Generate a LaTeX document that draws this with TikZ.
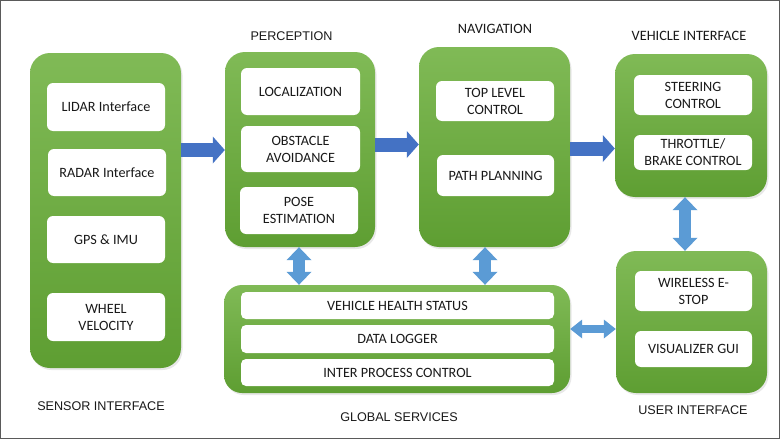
\documentclass[tikz,border=0pt]{standalone}
\usepackage{fontspec}
\setmainfont{Carlito}
\newfontfamily\headfont{Liberation Sans}
\usetikzlibrary{arrows.meta,shadows}
\definecolor{grtop}{RGB}{128,186,86}
\definecolor{grbot}{RGB}{94,158,50}
\definecolor{darkblue}{RGB}{68,114,196}
\definecolor{lightblue}{RGB}{91,155,213}
\definecolor{txt}{RGB}{25,25,25}
\definecolor{frame}{RGB}{90,90,90}
\tikzset{
  grp/.style={rectangle, rounded corners=20pt, top color=grtop, bottom color=grbot, draw=none,
    drop shadow={opacity=0.18, shadow xshift=1.5pt, shadow yshift=-2pt}},
  inbox/.style={rectangle, rounded corners=6pt, fill=white, draw=none, align=center,
    font=\fontsize{14.2}{17}\selectfont, text=txt, inner sep=0pt},
  rowbox/.style={rectangle, rounded corners=5pt, fill=white, draw=none, align=center,
    font=\fontsize{14.2}{17}\selectfont, text=txt, inner sep=0pt, minimum width=313pt},
  heading/.style={anchor=base, font=\headfont\fontsize{12.6}{15}\selectfont, text=txt, inner sep=0pt},
  cheading/.style={anchor=base, font=\fontsize{14.3}{17}\selectfont, text=txt, inner sep=0pt},
  harrow/.style={draw=darkblue, line width=14pt,
    -{Triangle[length=12pt 0 0, width=27pt 0 0, line width=0pt 0 0]}},
  varrow/.style={draw=lightblue, line width=12pt,
    {Triangle[length=13pt 0 0, width=25pt 0 0, line width=0pt 0 0]}-{Triangle[length=13pt 0 0, width=25pt 0 0, line width=0pt 0 0]}},
  sarrow/.style={draw=lightblue, line width=8pt,
    {Triangle[length=12pt 0 0, width=19pt 0 0, line width=0pt 0 0]}-{Triangle[length=12pt 0 0, width=19pt 0 0, line width=0pt 0 0]}},
}
\begin{document}
\begin{tikzpicture}[x=1pt,y=-1pt]
\useasboundingbox (0,0) rectangle (780,439);
\fill[white] (0,0) rectangle (780,439);
\draw[frame, line width=1.2pt] (0.6,0.6) rectangle (779.4,438.4);

% group boxes
\node[grp, minimum width=151pt, minimum height=315pt] (sensor) at (105.5,210.5) {};
\node[grp, minimum width=150pt, minimum height=195pt] (percep) at (300,149.5) {};
\node[grp, minimum width=151pt, minimum height=200pt] (nav) at (494.5,147) {};
\node[grp, minimum width=152pt, minimum height=143pt] (vehicle) at (691,125.5) {};
\node[grp, minimum width=151pt, minimum height=142pt] (user) at (691.5,322) {};
\node[grp, minimum width=346pt, minimum height=108pt, rounded corners=18pt] (global) at (397,339) {};

% sensor interface
\node[inbox, minimum width=118pt, minimum height=48pt] (lidar) at (106,107) {LIDAR Interface};
\node[inbox, minimum width=118pt, minimum height=47pt] (radar) at (107,172.5) {RADAR Interface};
\node[inbox, minimum width=118pt, minimum height=47pt] (gps) at (106,239.5) {GPS \& IMU};
\node[inbox, minimum width=118pt, minimum height=48pt] (wheel) at (106,317) {WHEEL\\VELOCITY};

% perception
\node[inbox, minimum width=119pt, minimum height=47pt] (loc) at (300.5,91.5) {LOCALIZATION};
\node[inbox, minimum width=119pt, minimum height=46pt] (obst) at (300.5,149) {OBSTACLE\\AVOIDANCE};
\node[inbox, minimum width=118pt, minimum height=47pt] (pose) at (299,210.5) {POSE\\ESTIMATION};

% navigation
\node[inbox, minimum width=118pt, minimum height=40pt] (top) at (495,101) {TOP LEVEL\\CONTROL};
\node[inbox, minimum width=117pt, minimum height=41pt] (path) at (495.5,175.5) {PATH PLANNING};

% vehicle interface
\node[inbox, minimum width=118pt, minimum height=40pt] (steer) at (693,95) {STEERING\\CONTROL};
\node[inbox, minimum width=118pt, minimum height=35pt] (throttle) at (693,152.5) {THROTTLE/\\BRAKE CONTROL};

% user interface
\node[inbox, minimum width=117pt, minimum height=40pt] (estop) at (693.5,291) {WIRELESS E-\\STOP};
\node[inbox, minimum width=117pt, minimum height=36pt] (gui) at (693.5,349) {VISUALIZER GUI};

% global services
\node[rowbox, minimum height=27pt] (health) at (397.5,305.5) {VEHICLE HEALTH STATUS};
\node[rowbox, minimum height=28pt] (logger) at (397.5,339) {DATA LOGGER};
\node[rowbox, minimum height=27pt] (ipc) at (397.5,372.5) {INTER PROCESS CONTROL};

% headings
\node[heading] (hp) at (291.5,41) {PERCEPTION};
\node[cheading] (hn) at (495,33) {NAVIGATION};
\node[cheading] (hv) at (689,40) {VEHICLE INTERFACE};
\node[heading] (hs) at (101,410) {SENSOR INTERFACE};
\node[heading] (hg) at (399,421) {GLOBAL SERVICES};
\node[heading] (hu) at (693,414) {USER INTERFACE};

% arrows
\draw[harrow] (sensor.east |- 0,150) -- (percep.west |- 0,150);
\draw[harrow] (percep.east |- 0,144.5) -- (nav.west |- 0,144.5);
\draw[harrow] (nav.east |- 0,148.5) -- (vehicle.west |- 0,148.5);
\draw[varrow] (percep.south -| 299,0) -- (global.north -| 299,0);
\draw[varrow] (nav.south -| 485,0) -- (global.north -| 485,0);
\draw[varrow] (vehicle.south -| 685,0) -- (user.north -| 685,0);
\draw[sarrow] (global.east |- 0,329) -- (user.west |- 0,329);
\end{tikzpicture}
\end{document}
